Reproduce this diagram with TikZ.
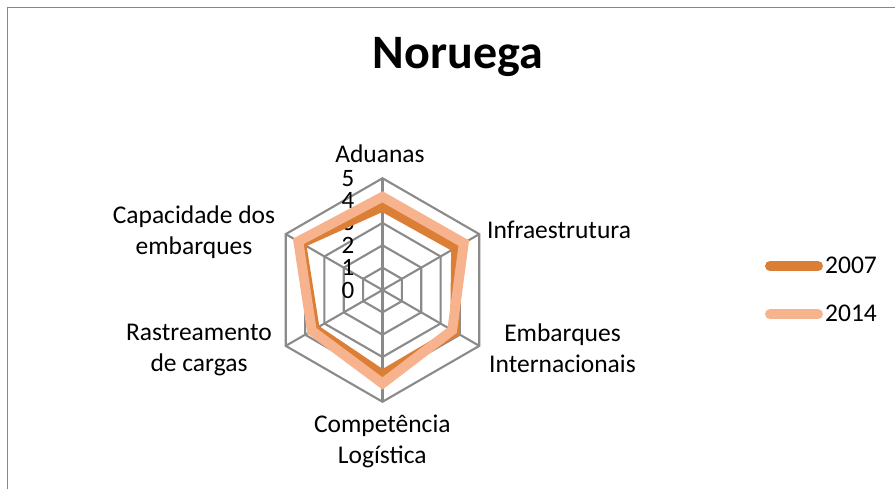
\documentclass[tikz,border=0pt]{standalone}
\usepackage{fontspec}
\setmainfont{Carlito}
\usetikzlibrary{calc}
\definecolor{darkor}{HTML}{DB7F37}
\definecolor{lightor}{HTML}{F7B38D}
\definecolor{gridgray}{HTML}{8A8A8A}
\definecolor{framegray}{HTML}{878787}
\begin{document}
\begin{tikzpicture}[x=1pt,y=-1pt,
  gridline/.style={draw=gridgray,line width=2.1pt},
  serie/.style={line width=9.8pt,line join=miter},
  lbl/.style={font=\fontsize{25.5}{31}\selectfont,align=center,inner sep=0pt,anchor=base},
  ticklbl/.style={font=\fontsize{25}{28}\selectfont,inner sep=0pt,anchor=east},
  legline/.style={line width=10pt,line cap=round}]
\useasboundingbox (0,0) rectangle (895,489);
\fill[white] (0,0) rectangle (895,489);
\draw[framegray,line width=1.5pt] (7.5,7.5) rectangle (905,500);
\node[font=\fontsize{48}{54}\selectfont\bfseries,inner sep=0pt,anchor=base] (title) at (458,69) {Noruega};
% grid
\coordinate (c) at (382.5,290);
\foreach \k in {1,...,5}{
  \foreach \i/\a in {1/90,2/30,3/-30,4/-90,5/210,6/150}
    \coordinate (g\k-\i) at ({382.5+22.35*\k*cos(\a)},{290-22.35*\k*sin(\a)});
  \draw[gridline] (g\k-1)--(g\k-2)--(g\k-3)--(g\k-4)--(g\k-5)--(g\k-6)--cycle;
}
\foreach \i in {1,...,6} \draw[gridline] (c) -- (g5-\i);
% tick labels
\foreach \k in {0,...,5} \node[ticklbl] (t\k) at (354.5,{290-22.35*\k}) {\k};
% series
\foreach \i/\a/\v/\w in {1/90/3.73/4.17,2/30/3.8/4.2,3/-30/3.75/3.6,4/-90/3.79/4.18,5/210/3.5/3.65,6/150/4.2/4.35}{
  \coordinate (d\i) at ({382.5+22.35*\v*cos(\a)},{290-22.35*\v*sin(\a)});
  \coordinate (e\i) at ({382.5+22.35*\w*cos(\a)},{290-22.35*\w*sin(\a)});
}
\draw[serie,darkor] (d1)--(d2)--(d3)--(d4)--(d5)--(d6)--cycle;
\draw[serie,lightor] (e1)--(e2)--(e3)--(e4)--(e5)--(e6)--cycle;
% axis labels (anchor base = baseline of the last line)
\node[lbl] (l1) at (380,163) {Aduanas};
\node[lbl,anchor=base west] (l2) at (487,239) {Infraestrutura};
\node[lbl] (l3) at (562.5,372.5) {Embarques\\Internacionais};
\node[lbl] (l4) at (382.3,463) {Competência\\Logística};
\node[lbl] (l5) at (199,371.7) {Rastreamento\\de cargas};
\node[lbl] (l6) at (194,255) {Capacidade dos\\embarques};
% legend
\coordinate (a1) at (770,266); \coordinate (b1) at (818,266);
\coordinate (a2) at (770,314.3); \coordinate (b2) at (818,314.3);
\draw[legline,darkor] (a1) -- (b1);
\draw[legline,lightor] (a2) -- (b2);
\node[lbl,anchor=base west] (k1) at (825,273.3) {2007};
\node[lbl,anchor=base west] (k2) at (825,321.7) {2014};
\end{tikzpicture}
\end{document}
